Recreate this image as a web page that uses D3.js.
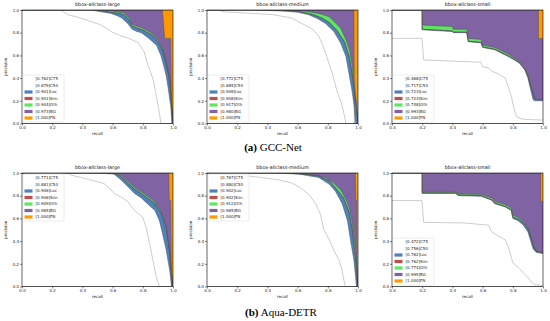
<!DOCTYPE html>
<html>
<head>
<meta charset="utf-8">
<script src="https://cdn.jsdelivr.net/npm/d3@7"></script>
<style>
  body { margin: 0; background: #fff; }
  svg { display: block; }
</style>
</head>
<body>
<svg id="fig" width="550" height="321"></svg>
<script>
// categories / legend
const curveNames = ['C75', 'C50', 'Loc', 'Sim', 'Oth', 'BG', 'FN'];
const curveColors = ['#ffffff', '#ffffff', '#4f82bd', '#bf4f4d', '#5ce661', '#8063a3', '#ff9900'];
const recallTicks = [0, 0.2, 0.4, 0.6, 0.8, 1.0];
const precisionTicks = [0, 0.2, 0.4, 0.6, 0.8, 1.0];

// AP values shown in each legend (same order as curveNames)
const gccLargeAP = [0.762, 0.879, 0.901, 0.901, 0.904, 0.973, 1.000];
const gccMediumAP = [0.772, 0.885, 0.908, 0.908, 0.917, 0.980, 1.000];
const gccSmallAP = [0.468, 0.717, 0.723, 0.723, 0.748, 0.993, 1.000];
const aquaLargeAP = [0.771, 0.881, 0.906, 0.906, 0.909, 0.985, 1.000];
const aquaMediumAP = [0.767, 0.880, 0.902, 0.902, 0.912, 0.985, 1.000];
const aquaSmallAP = [0.472, 0.756, 0.762, 0.762, 0.774, 0.995, 1.000];

// PR curves, [recall, precision]
const gccLarge = {
  C75: [[0,1],[0.25,1],[0.27,0.99],[0.3,0.96],[0.36,0.94],[0.43,0.91],[0.52,0.87],[0.56,0.84],[0.59,0.81],[0.64,0.78],[0.71,0.75],[0.77,0.71],[0.81,0.63],[0.83,0.53],[0.85,0.46],[0.87,0.38],[0.89,0.24],[0.91,0.09],[0.92,0]],
  C50: [[0,1],[0.45,1],[0.5,0.99],[0.59,0.97],[0.63,0.95],[0.66,0.93],[0.7,0.88],[0.73,0.83],[0.76,0.81],[0.79,0.8],[0.84,0.75],[0.89,0.69],[0.92,0.6],[0.94,0.5],[0.955,0.42],[0.967,0.32],[0.985,0.15],[0.993,0]],
  Loc: [[0,1],[0.5,1],[0.59,0.98],[0.66,0.965],[0.68,0.95],[0.71,0.91],[0.73,0.86],[0.76,0.84],[0.79,0.83],[0.86,0.78],[0.9,0.72],[0.93,0.65],[0.955,0.53],[0.97,0.44],[0.98,0.35],[0.993,0.12],[1,0]],
  Oth: [[0,1],[0.52,1],[0.6,0.99],[0.67,0.975],[0.71,0.925],[0.73,0.875],[0.76,0.855],[0.79,0.845],[0.86,0.795],[0.9,0.735],[0.93,0.665],[0.955,0.545],[0.97,0.45],[0.98,0.36],[0.993,0.13],[1,0]],
  BG: [[0,1],[0.93,1],[0.945,0.75],[0.985,0.75],[0.99,0.2],[0.995,0],[1,0]],
  FN: [[0,1],[1,1]]
};
const gccMedium = {
  C75: [[0,1],[0.08,1],[0.1,0.985],[0.3,0.97],[0.43,0.96],[0.56,0.93],[0.63,0.88],[0.7,0.83],[0.74,0.77],[0.77,0.68],[0.8,0.56],[0.83,0.44],[0.86,0.29],[0.89,0.18],[0.91,0.07],[0.92,0]],
  C50: [[0,1],[0.3,1],[0.52,0.99],[0.6,0.98],[0.67,0.96],[0.73,0.925],[0.785,0.88],[0.84,0.81],[0.885,0.71],[0.92,0.59],[0.94,0.44],[0.96,0.29],[0.975,0.15],[0.985,0]],
  Loc: [[0,1],[0.4,1],[0.6,0.99],[0.7,0.96],[0.76,0.93],[0.81,0.89],[0.86,0.82],[0.91,0.72],[0.94,0.6],[0.96,0.45],[0.975,0.3],[0.99,0.15],[0.997,0]],
  Oth: [[0,1],[0.5,1],[0.65,0.99],[0.74,0.97],[0.81,0.94],[0.84,0.9],[0.885,0.84],[0.92,0.74],[0.945,0.64],[0.96,0.52],[0.975,0.36],[0.99,0.17],[1,0]],
  BG: [[0,1],[0.973,1],[0.976,0],[1,0]],
  FN: [[0,1],[1,1]]
};
const gccSmall = {
  C75: [[0,0.75],[0.198,0.75],[0.21,0.56],[0.4,0.55],[0.59,0.54],[0.6,0.5],[0.64,0.49],[0.66,0.46],[0.7,0.44],[0.75,0.4],[0.77,0.32],[0.79,0.24],[0.81,0.12],[0.825,0.06],[0.86,0.04],[0.9,0.035],[1,0.03]],
  C50: [[0,1],[0.2,1],[0.2,0.825],[0.4,0.81],[0.405,0.8],[0.495,0.8],[0.505,0.72],[0.59,0.71],[0.6,0.67],[0.68,0.65],[0.725,0.62],[0.77,0.59],[0.81,0.56],[0.845,0.53],[0.88,0.47],[0.9,0.4],[0.923,0.27],[0.934,0.21],[0.945,0.2],[1,0.2]],
  Loc: [[0,1],[0.2,1],[0.2,0.83],[0.4,0.815],[0.405,0.805],[0.495,0.805],[0.505,0.725],[0.59,0.715],[0.6,0.675],[0.68,0.655],[0.725,0.625],[0.77,0.595],[0.81,0.565],[0.845,0.535],[0.88,0.48],[0.9,0.42],[0.923,0.31],[0.94,0.24],[0.95,0.21],[1,0.21]],
  Oth: [[0,1],[0.2,1],[0.2,0.87],[0.22,0.865],[0.4,0.855],[0.405,0.83],[0.495,0.83],[0.505,0.75],[0.59,0.74],[0.6,0.69],[0.68,0.67],[0.725,0.64],[0.77,0.61],[0.81,0.575],[0.845,0.545],[0.88,0.49],[0.9,0.43],[0.923,0.315],[0.94,0.245],[0.95,0.215],[1,0.215]],
  BG: [[0,1],[0.97,1],[0.97,0.75],[1,0.75]],
  FN: [[0,1],[1,1]]
};
const aquaLarge = {
  C75: [[0,1],[0.3,1],[0.33,0.98],[0.39,0.96],[0.48,0.93],[0.545,0.905],[0.59,0.85],[0.61,0.82],[0.655,0.79],[0.7,0.75],[0.745,0.67],[0.8,0.61],[0.82,0.53],[0.845,0.38],[0.867,0.23],[0.89,0.08],[0.91,0]],
  C50: [[0,1],[0.5,1],[0.61,0.99],[0.655,0.94],[0.7,0.88],[0.745,0.82],[0.79,0.78],[0.83,0.73],[0.88,0.67],[0.91,0.58],[0.93,0.47],[0.955,0.32],[0.978,0.14],[0.99,0]],
  Loc: [[0,1],[0.55,1],[0.62,0.995],[0.655,0.97],[0.7,0.91],[0.745,0.86],[0.81,0.8],[0.88,0.73],[0.92,0.65],[0.955,0.52],[0.978,0.3],[0.995,0.05],[1,0]],
  Oth: [[0,1],[0.56,1],[0.63,0.995],[0.66,0.975],[0.7,0.925],[0.745,0.875],[0.81,0.815],[0.88,0.745],[0.92,0.665],[0.955,0.535],[0.978,0.31],[0.995,0.06],[1,0]],
  BG: [[0,1],[0.972,1],[0.975,0.76],[0.985,0.76],[0.99,0],[1,0]],
  FN: [[0,1],[1,1]]
};
const aquaMedium = {
  C75: [[0,1],[0.05,1],[0.08,0.99],[0.3,0.97],[0.475,0.94],[0.565,0.91],[0.62,0.87],[0.675,0.81],[0.72,0.73],[0.75,0.64],[0.775,0.5],[0.81,0.41],[0.84,0.32],[0.875,0.23],[0.895,0.14],[0.915,0]],
  C50: [[0,1],[0.45,1],[0.61,0.99],[0.74,0.96],[0.81,0.9],[0.85,0.84],[0.895,0.73],[0.93,0.58],[0.95,0.41],[0.973,0.23],[0.99,0]],
  Loc: [[0,1],[0.5,1],[0.65,0.99],[0.74,0.975],[0.81,0.93],[0.85,0.87],[0.905,0.78],[0.94,0.66],[0.962,0.5],[0.98,0.3],[0.993,0.1],[1,0]],
  Oth: [[0,1],[0.55,1],[0.675,0.99],[0.785,0.96],[0.84,0.91],[0.885,0.85],[0.92,0.77],[0.945,0.68],[0.962,0.56],[0.985,0.32],[0.997,0.1],[1,0]],
  BG: [[0,1],[0.982,1],[0.985,0.76],[0.99,0.76],[0.993,0],[1,0]],
  FN: [[0,1],[1,1]]
};
const aquaSmall = {
  C75: [[0,0.757],[0.198,0.757],[0.21,0.565],[0.48,0.56],[0.64,0.54],[0.66,0.48],[0.7,0.45],[0.75,0.41],[0.77,0.35],[0.79,0.26],[0.8,0.21],[0.835,0.17],[0.857,0.14],[0.9,0.08],[0.923,0.04],[0.945,0.015],[1,0.01]],
  C50: [[0,1],[0.2,1],[0.2,0.82],[0.42,0.82],[0.44,0.8],[0.59,0.795],[0.66,0.76],[0.68,0.73],[0.75,0.7],[0.79,0.67],[0.8,0.6],[0.835,0.58],[0.87,0.54],[0.9,0.48],[0.923,0.38],[0.934,0.33],[0.956,0.3],[1,0.29]],
  Loc: [[0,1],[0.2,1],[0.2,0.825],[0.42,0.825],[0.44,0.805],[0.59,0.8],[0.66,0.765],[0.68,0.735],[0.75,0.705],[0.79,0.675],[0.8,0.61],[0.835,0.595],[0.87,0.56],[0.9,0.51],[0.923,0.42],[0.934,0.36],[0.956,0.31],[1,0.295]],
  Oth: [[0,1],[0.2,1],[0.2,0.835],[0.42,0.835],[0.44,0.815],[0.59,0.81],[0.66,0.78],[0.68,0.75],[0.75,0.72],[0.79,0.69],[0.8,0.625],[0.835,0.61],[0.87,0.57],[0.9,0.52],[0.923,0.43],[0.934,0.37],[0.956,0.315],[1,0.3]],
  BG: [[0,1],[0.985,1],[0.985,0.75],[1,0.75]],
  FN: [[0,1],[1,1]]
};

// Sim AP equals Loc AP in every panel, so the two curves coincide
[gccLarge, gccMedium, gccSmall, aquaLarge, aquaMedium, aquaSmall].forEach(c => { c.Sim = c.Loc; });

const panels = [
  { title: 'bbox-allclass-large', curves: gccLarge, ap: gccLargeAP, col: 0, row: 0, legend: 'lower' },
  { title: 'bbox-allclass-medium', curves: gccMedium, ap: gccMediumAP, col: 1, row: 0, legend: 'lower' },
  { title: 'bbox-allclass-small', curves: gccSmall, ap: gccSmallAP, col: 2, row: 0, legend: 'lower' },
  { title: 'bbox-allclass-large', curves: aquaLarge, ap: aquaLargeAP, col: 0, row: 1, legend: 'upper' },
  { title: 'bbox-allclass-medium', curves: aquaMedium, ap: aquaMediumAP, col: 1, row: 1, legend: 'upper' },
  { title: 'bbox-allclass-small', curves: aquaSmall, ap: aquaSmallAP, col: 2, row: 1, legend: 'lower' }
];

// layout
const colX = [22, 207, 392];
const plotW = 151;
const rowY = [10, 173];
const plotH = 113.5;
const tickFont = 4;
const fontFamily = '"DejaVu Sans", sans-serif';

const svg = d3.select('#fig');

panels.forEach((p, i) => {
  const x = d3.scaleLinear().domain([0, 1]).range([0, plotW]);
  const y = d3.scaleLinear().domain([0, 1]).range([plotH, 0]);

  const g = svg.append('g')
    .attr('transform', `translate(${colX[p.col]},${rowY[p.row]})`);

  g.append('clipPath')
    .attr('id', 'clip' + i)
    .append('rect')
    .attr('width', plotW)
    .attr('height', plotH);

  const plot = g.append('g').attr('clip-path', `url(#clip${i})`);

  const area = d3.area()
    .x(d => x(d[0]))
    .y0(plotH)
    .y1(d => y(d[1]));

  const line = d3.line()
    .x(d => x(d[0]))
    .y(d => y(d[1]));

  // paint from the top curve down, each one covers the one above it
  for (let k = curveNames.length - 1; k >= 0; k--) {
    plot.append('path')
      .datum(p.curves[curveNames[k]])
      .attr('d', area)
      .attr('fill', curveColors[k]);
  }

  // thin curve outlines, look grey once downscaled
  for (let k = 0; k < curveNames.length; k++) {
    plot.append('path')
      .datum(p.curves[curveNames[k]])
      .attr('d', line)
      .attr('fill', 'none')
      .attr('stroke', k === 0 ? '#9a9a9a' : '#555')
      .attr('stroke-width', 0.5);
  }

  // axes
  const xAxis = g.append('g')
    .attr('transform', `translate(0,${plotH})`)
    .call(d3.axisBottom(x).tickValues(recallTicks).tickFormat(d3.format('.1f')).tickSize(2).tickPadding(1));
  const yAxis = g.append('g')
    .call(d3.axisLeft(y).tickValues(precisionTicks).tickFormat(d3.format('.1f')).tickSize(2).tickPadding(1));

  [xAxis, yAxis].forEach(a => {
    a.select('.domain').remove();
    a.selectAll('line').attr('stroke', '#000').attr('stroke-width', 0.5);
    a.selectAll('text')
      .style('font-family', fontFamily)
      .style('font-size', tickFont + 'px')
      .attr('fill', '#222');
  });

  g.append('rect')
    .attr('width', plotW)
    .attr('height', plotH)
    .attr('fill', 'none')
    .attr('stroke', '#000')
    .attr('stroke-width', 0.6);

  g.append('text')
    .attr('x', plotW / 2)
    .attr('y', -5)
    .attr('text-anchor', 'middle')
    .attr('dominant-baseline', 'middle')
    .style('font-family', fontFamily)
    .style('font-size', '4.8px')
    .attr('fill', '#111')
    .text(p.title);

  g.append('text')
    .attr('x', plotW / 2)
    .attr('y', plotH + 10)
    .attr('text-anchor', 'middle')
    .attr('dominant-baseline', 'middle')
    .style('font-family', fontFamily)
    .style('font-size', tickFont + 'px')
    .attr('fill', '#222')
    .text('recall');

  g.append('text')
    .attr('transform', `translate(-16,${plotH / 2}) rotate(-90)`)
    .attr('text-anchor', 'middle')
    .attr('dominant-baseline', 'middle')
    .style('font-family', fontFamily)
    .style('font-size', tickFont + 'px')
    .attr('fill', '#222')
    .text('precision');

  // legend
  const legW = 41, legH = 47, rowStep = 6.5;
  const lx = 1;
  const ly = p.legend === 'lower' ? plotH - legH - 1.5 : 1;
  const leg = g.append('g').attr('transform', `translate(${lx},${ly})`);

  leg.append('rect')
    .attr('width', legW)
    .attr('height', legH)
    .attr('rx', 1)
    .attr('fill', '#fff')
    .attr('fill-opacity', 0.85)
    .attr('stroke', '#d0d0d0')
    .attr('stroke-width', 0.4);

  curveNames.forEach((name, k) => {
    const cy = 4 + k * rowStep;
    leg.append('rect')
      .attr('x', 1.5)
      .attr('y', cy - 1.6)
      .attr('width', 8)
      .attr('height', 3.2)
      .attr('fill', curveColors[k]);
    leg.append('text')
      .attr('x', 12.5)
      .attr('y', cy)
      .attr('dominant-baseline', 'middle')
      .style('font-family', fontFamily)
      .style('font-size', '4px')
      .attr('fill', '#222')
      .text(`[${p.ap[k].toFixed(3)}]${name}`);
  });
});

// sub-figure captions
const captions = [
  { tag: '(a)', name: ' GCC-Net', x: 273, y: 148 },
  { tag: '(b)', name: ' Aqua-DETR', x: 281, y: 313 }
];

captions.forEach(c => {
  const t = svg.append('text')
    .attr('x', c.x)
    .attr('y', c.y)
    .attr('text-anchor', 'middle')
    .attr('dominant-baseline', 'middle')
    .style('font-family', '"Liberation Serif", serif')
    .style('font-size', '11px')
    .attr('fill', '#000');
  t.append('tspan').style('font-weight', 'bold').text(c.tag);
  t.append('tspan').text(c.name);
});
</script>
</body>
</html>
